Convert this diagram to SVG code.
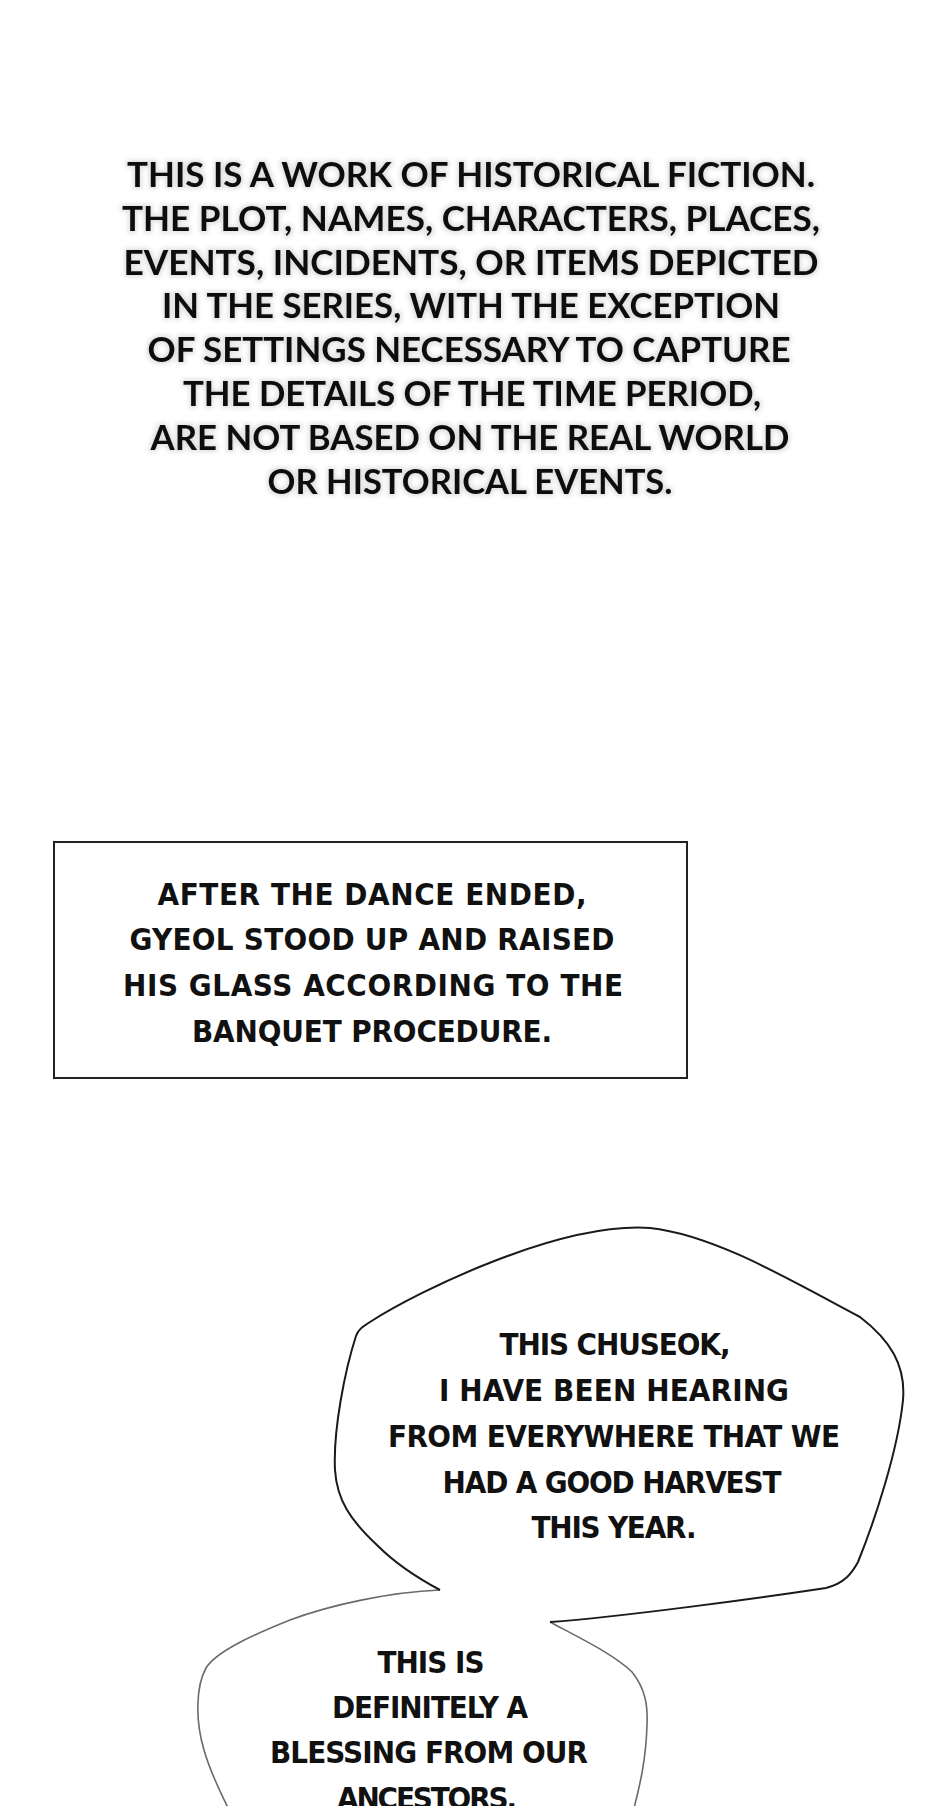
<svg xmlns="http://www.w3.org/2000/svg" width="940" height="1806" viewBox="0 0 940 1806">
<style>
.notice{font-family:Lato,"Liberation Sans",sans-serif;font-weight:bold;font-size:35px;fill:#111;text-anchor:middle}
.comic{font-family:"DejaVu Sans Condensed","DejaVu Sans",sans-serif;font-weight:bold;font-size:31px;fill:#111;text-anchor:middle}
.frame{fill:none;stroke:#222;stroke-width:2}
.bubble{fill:#fff;stroke:#1a1a1a;stroke-width:2;stroke-linejoin:round}
.bubble2{fill:none;stroke:#6a6a6a;stroke-width:1.6;stroke-linejoin:round}
</style>
<defs>
<filter id="halo" x="-5%" y="-20%" width="110%" height="140%">
<feMorphology in="SourceAlpha" operator="dilate" radius="2" result="d"/>
<feGaussianBlur in="d" stdDeviation="2" result="b"/>
<feFlood flood-color="#000" flood-opacity="0.12"/>
<feComposite in2="b" operator="in" result="s"/>
<feMerge><feMergeNode in="s"/><feMergeNode in="SourceGraphic"/></feMerge>
</filter>
</defs>
<rect x="0" y="0" width="940" height="1806" fill="#fff"/>

<g id="notice" filter="url(#halo)">
<text class="notice" x="471" y="187" textLength="688" lengthAdjust="spacingAndGlyphs">THIS IS A WORK OF HISTORICAL FICTION.</text>
<text class="notice" x="471" y="230.8" textLength="698" lengthAdjust="spacingAndGlyphs">THE PLOT, NAMES, CHARACTERS, PLACES,</text>
<text class="notice" x="471" y="274.6" textLength="695" lengthAdjust="spacingAndGlyphs">EVENTS, INCIDENTS, OR ITEMS DEPICTED</text>
<text class="notice" x="471" y="318.4" textLength="618" lengthAdjust="spacingAndGlyphs">IN THE SERIES, WITH THE EXCEPTION</text>
<text class="notice" x="469" y="362.2" textLength="643" lengthAdjust="spacingAndGlyphs">OF SETTINGS NECESSARY TO CAPTURE</text>
<text class="notice" x="472" y="406" textLength="578" lengthAdjust="spacingAndGlyphs">THE DETAILS OF THE TIME PERIOD,</text>
<text class="notice" x="470" y="449.8" textLength="639" lengthAdjust="spacingAndGlyphs">ARE NOT BASED ON THE REAL WORLD</text>
<text class="notice" x="470" y="493.6" textLength="405" lengthAdjust="spacingAndGlyphs">OR HISTORICAL EVENTS.</text>
</g>

<g id="caption-box">
<rect class="frame" x="54" y="842" width="633" height="236"/>
<text class="comic" x="372" y="905" textLength="429" lengthAdjust="spacing">AFTER THE DANCE ENDED,</text>
<text class="comic" x="372" y="950" textLength="485" lengthAdjust="spacing">GYEOL STOOD UP AND RAISED</text>
<text class="comic" x="373" y="996" textLength="500" lengthAdjust="spacing">HIS GLASS ACCORDING TO THE</text>
<text class="comic" x="372" y="1042" textLength="360" lengthAdjust="spacing">BANQUET PROCEDURE.</text>
</g>

<g id="bubble-lower">
<path class="bubble2" d="M440,1590 C390,1592 330,1605 290,1620 C250,1636 216,1652 206,1668 C196,1686 195,1720 204,1750 C211,1775 222,1795 230,1812"/>
<path class="bubble2" d="M550,1622 C580,1638 615,1655 632,1672 C645,1688 648,1705 647,1725 C646,1760 640,1785 633,1812"/>
<text class="comic" x="431" y="1673" textLength="107" lengthAdjust="spacing">THIS IS</text>
<text class="comic" x="430" y="1718" textLength="196" lengthAdjust="spacing">DEFINITELY A</text>
<text class="comic" x="429" y="1763" textLength="318" lengthAdjust="spacing">BLESSING FROM OUR</text>
<text class="comic" x="427" y="1809" textLength="180" lengthAdjust="spacing">ANCESTORS.</text>
</g>

<g id="bubble-upper">
<path class="bubble" fill="none" d="M550,1622 C620,1617 760,1598 826,1588 C845,1583 852,1573 858,1562 C875,1520 898,1450 903,1400 C906,1365 890,1340 860,1317 C790,1280 715,1235 650,1228 C560,1222 420,1290 370,1322 C362,1327 358,1330 356,1336 C345,1370 333,1430 335,1470 C337,1500 350,1520 378,1546 C400,1568 425,1582 440,1590"/>
<text class="comic" x="615" y="1355" textLength="231" lengthAdjust="spacing">THIS CHUSEOK,</text>
<text class="comic" x="614" y="1401" textLength="350" lengthAdjust="spacing">I HAVE BEEN HEARING</text>
<text class="comic" x="614" y="1447" textLength="452" lengthAdjust="spacing">FROM EVERYWHERE THAT WE</text>
<text class="comic" x="612" y="1493" textLength="339" lengthAdjust="spacing">HAD A GOOD HARVEST</text>
<text class="comic" x="614" y="1538" textLength="165" lengthAdjust="spacing">THIS YEAR.</text>
</g>
</svg>
